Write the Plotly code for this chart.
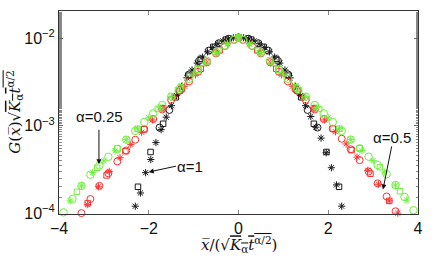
import plotly.graph_objects as go

# ---- data ----
# alpha = 0.25 (green)
g_circ_x = [-3.9,-3.7,-3.5,-3.3,-3.1,-2.9,-2.7,-2.5,-2.3,-2.1,-1.9,-1.7,-1.5,-1.3,-1.1,-0.9,-0.7,-0.5,-0.3,-0.1,
            0.1,0.3,0.5,0.7,0.9,1.1,1.3,1.5,1.7,1.9,2.1,2.3,2.5,2.7,2.9,3.1,3.3,3.5,3.7,3.9]
g_circ_y = [1.02e-4,1.45e-4,2.05e-4,2.75e-4,3.5e-4,4.4e-4,5.4e-4,6.9e-4,8.7e-4,1.10e-3,1.38e-3,1.72e-3,2.14e-3,2.69e-3,3.43e-3,4.37e-3,5.50e-3,6.84e-3,8.22e-3,9.55e-3,
            9.55e-3,8.22e-3,6.84e-3,5.50e-3,4.37e-3,3.43e-3,2.69e-3,2.14e-3,1.72e-3,1.38e-3,1.10e-3,8.71e-4,6.92e-4,5.50e-4,4.42e-4,3.55e-4,2.79e-4,2.09e-4,1.53e-4,1.08e-4]
g_sq_x = [-3.6,-3.15,-2.7,-2.25,-1.8,-1.35,-0.9,-0.45,0.0,0.45,0.9,1.35,1.8,2.25,2.7,3.15,3.6]
g_sq_y = [1.75e-4,3.3e-4,5.5e-4,9.2e-4,1.55e-3,2.54e-3,4.37e-3,7.24e-3,1.02e-2,7.24e-3,4.37e-3,2.54e-3,1.55e-3,9.23e-4,5.5e-4,3.35e-4,1.78e-4]
g_st_x = [-3.75,-3.5,-3.25,-3.0,-2.75,-2.5,-2.25,-2.0,-1.75,-1.5,-1.25,-1.0,-0.75,-0.5,-0.25,0.0,0.25,0.5,0.75,1.0,1.25,1.5,1.75,2.0,2.25,2.5,2.75,3.0,3.25,3.5,3.75]
g_st_y = [1.38e-4,2.05e-4,2.92e-4,3.95e-4,5.15e-4,6.9e-4,9.2e-4,1.23e-3,1.62e-3,2.14e-3,2.85e-3,3.89e-3,5.19e-3,6.84e-3,8.57e-3,1.02e-2,8.57e-3,6.84e-3,5.19e-3,3.89e-3,2.85e-3,2.14e-3,1.62e-3,1.23e-3,9.23e-4,6.92e-4,5.19e-4,3.98e-4,2.95e-4,2.09e-4,1.41e-4]

# alpha = 0.5 (red)
r_circ_x = [-3.5,-3.3,-3.1,-2.9,-2.7,-2.5,-2.3,-2.1,-1.9,-1.7,-1.5,-1.3,-1.1,-0.9,-0.7,-0.5,-0.3,-0.1,
            0.1,0.3,0.5,0.7,0.9,1.1,1.3,1.5,1.7,1.9,2.1,2.3,2.5,2.7,2.9,3.1,3.3,3.5]
r_circ_y = [1.0e-4,1.45e-4,2.05e-4,2.85e-4,3.9e-4,5.2e-4,6.9e-4,9.1e-4,1.19e-3,1.53e-3,1.97e-3,2.51e-3,3.20e-3,4.12e-3,5.31e-3,6.68e-3,8.13e-3,9.55e-3,
            9.55e-3,8.13e-3,6.68e-3,5.31e-3,4.12e-3,3.20e-3,2.51e-3,1.97e-3,1.53e-3,1.19e-3,9.23e-4,7.08e-4,5.37e-4,4.03e-4,2.99e-4,2.19e-4,1.55e-4,1.05e-4]
r_sq_x = [-3.36,-2.94,-2.52,-2.1,-1.68,-1.26,-0.84,-0.42,0.0,0.42,0.84,1.26,1.68,2.1,2.52,2.94,3.36]
r_sq_y = [1.3e-4,2.7e-4,5.1e-4,9.1e-4,1.58e-3,2.63e-3,4.47e-3,7.24e-3,1.02e-2,7.24e-3,4.47e-3,2.63e-3,1.58e-3,9.23e-4,5.25e-4,2.82e-4,1.38e-4]
r_st_x = [-3.36,-3.12,-2.88,-2.64,-2.4,-2.16,-1.92,-1.68,-1.44,-1.2,-0.96,-0.72,-0.48,-0.24,0.0,0.24,0.48,0.72,0.96,1.2,1.44,1.68,1.92,2.16,2.4,2.64,2.88,3.12,3.36,3.55]
r_st_y = [1.25e-4,2.0e-4,3.0e-4,4.3e-4,6.1e-4,8.4e-4,1.16e-3,1.58e-3,2.14e-3,2.82e-3,3.80e-3,5.19e-3,6.84e-3,8.61e-3,1.02e-2,8.61e-3,6.84e-3,5.19e-3,3.80e-3,2.82e-3,2.14e-3,1.58e-3,1.16e-3,8.51e-4,6.17e-4,4.37e-4,3.09e-4,2.14e-4,1.38e-4,1.0e-4]

# alpha = 1 (black)
k_st_x = [-2.3,-2.185,-2.07,-1.955,-1.84,-1.725,-1.61,-1.495,-1.38,-1.265,-1.15,-1.035,-0.92,-0.805,-0.69,-0.575,-0.46,-0.345,-0.23,-0.115,0.0,0.115,0.23,0.345,0.46,0.575,0.69,0.805,0.92,1.035,1.15,1.265,1.38,1.495,1.61,1.725,1.84,1.955,2.07,2.185,2.3]
k_st_y = [1.2e-4,1.7e-4,2.9e-4,4.1e-4,6.4e-4,9.0e-4,1.25e-3,1.69e-3,2.20e-3,2.82e-3,3.52e-3,4.32e-3,5.18e-3,6.07e-3,6.97e-3,7.83e-3,8.63e-3,9.29e-3,9.8e-3,1.01e-2,1.02e-2,1.01e-2,9.8e-3,9.29e-3,8.63e-3,7.83e-3,6.97e-3,6.07e-3,5.18e-3,4.32e-3,3.52e-3,2.82e-3,2.20e-3,1.69e-3,1.27e-3,9.6e-4,7.2e-4,4.9e-4,3.3e-4,2.1e-4,1.2e-4]
k_sq_x = [-2.24,-1.96,-1.68,-1.4,-1.12,-0.84,-0.56,-0.28,0.0,0.28,0.56,0.84,1.12,1.4,1.68,1.96,2.24]
k_sq_y = [2.0e-4,5.0e-4,1.05e-3,2.11e-3,3.72e-3,5.79e-3,7.94e-3,9.62e-3,1.02e-2,9.62e-3,7.94e-3,5.79e-3,3.72e-3,2.11e-3,1.05e-3,5.0e-4,2.0e-4]
k_circ_x = [-1.76,-1.54,-1.32,-1.1,-0.88,-0.66,-0.44,-0.22,0.0,0.22,0.44,0.66,0.88,1.1,1.32,1.54,1.76]
k_circ_y = [9.5e-4,1.51e-3,2.51e-3,3.85e-3,5.48e-3,7.21e-3,8.75e-3,9.84e-3,1.02e-2,9.84e-3,8.75e-3,7.21e-3,5.48e-3,3.85e-3,2.51e-3,1.51e-3,9.5e-4]

BLACK = "#1a1a1a"
RED = "#ff3030"
GREEN = "#6cf03c"

series = [
    (k_circ_x, k_circ_y, BLACK, "circle-open", 7),
    (k_sq_x, k_sq_y, BLACK, "square-open", 5.5),
    (k_st_x, k_st_y, BLACK, "asterisk-open", 6),
    (r_circ_x, r_circ_y, RED, "circle-open", 7),
    (r_sq_x, r_sq_y, RED, "square-open", 5.5),
    (r_st_x, r_st_y, RED, "asterisk-open", 6),
    (g_circ_x, g_circ_y, GREEN, "circle-open", 7.5),
    (g_sq_x, g_sq_y, GREEN, "square-open", 5.5),
    (g_st_x, g_st_y, GREEN, "asterisk-open", 6),
]

fig = go.Figure()
for xs, ys, col, sym, sz in series:
    fig.add_trace(go.Scatter(
        x=xs, y=ys, mode="markers", cliponaxis=False, showlegend=False,
        marker=dict(symbol=sym, size=sz, color=col, line=dict(color=col, width=1)),
    ))

axis_col = "#333333"
tickfont = dict(family="Liberation Sans, Arial, sans-serif", size=16, color="#111")

fig.update_xaxes(
    range=[-4, 4], tickvals=[-4, -2, 0, 2, 4], ticktext=["\u22124", "\u22122", "0", "2", "4"],
    showline=True, mirror="ticks", linecolor=axis_col, linewidth=1,
    ticks="inside", ticklen=4, tickcolor="#888", showgrid=False, zeroline=False,
    tickfont=tickfont,
)
fig.update_yaxes(
    type="log", range=[-4.01, -1.69],
    tickvals=[1e-4, 1e-3, 1e-2],
    ticktext=["10<sup>\u22124</sup>", "10<sup>\u22123</sup>", "10<sup>\u22122</sup>"],
    showline=True, mirror="ticks", linecolor=axis_col, linewidth=1,
    ticks="inside", ticklen=4, tickcolor="#666", showgrid=False, zeroline=False,
    minor=dict(ticks="inside", ticklen=2.5, tickcolor="#888", showgrid=False),
    tickfont=tickfont,
)

ann_font = dict(family="Liberation Sans, Arial, sans-serif", size=15, color="#111")
label_font = dict(family="DejaVu Serif, Liberation Serif, serif", size=15, color="#111")

annotations = [
    dict(x=-3.09, y=-2.90, text="\u03b1=0.25", showarrow=False, font=ann_font),
    dict(x=-1.07, y=-3.47, text="\u03b1=1", showarrow=False, font=ann_font),
    dict(x=3.42, y=-3.13, text="\u03b1=0.5", showarrow=False, font=ann_font),
    dict(x=-3.11, y=-3.44, ax=-3.11, ay=-3.03, axref="x", ayref="y", text="",
         showarrow=True, arrowhead=2, arrowsize=1, arrowwidth=1, arrowcolor="#111"),
    dict(x=-2.0, y=-3.53, ax=-1.36, ay=-3.46, axref="x", ayref="y", text="",
         showarrow=True, arrowhead=2, arrowsize=1, arrowwidth=1, arrowcolor="#111"),
    dict(x=3.22, y=-3.73, ax=3.42, ay=-3.22, axref="x", ayref="y", text="",
         showarrow=True, arrowhead=2, arrowsize=1, arrowwidth=1, arrowcolor="#111"),
    dict(xref="paper", yref="paper", x=0.5, y=-0.15, xanchor="center", yanchor="middle",
         text="<i>x\u0305</i>/(\u221a<span style='text-decoration:overline'><i>K</i><sub>\u03b1</sub><i>t</i><sup>\u03b1/2</sup></span>)",
         showarrow=False, font=label_font),
    dict(xref="paper", yref="paper", x=-0.125, y=0.5, xanchor="center", yanchor="middle", textangle=-90,
         text="<i>G</i>(<i>x\u0305</i>)\u221a<span style='text-decoration:overline'><i>K</i><sub>\u03b1</sub><i>t</i><sup>\u03b1/2</sup></span>",
         showarrow=False, font=label_font),
]

fig.update_layout(
    width=436, height=259,
    margin=dict(l=59, r=18, t=11, b=45),
    paper_bgcolor="white", plot_bgcolor="white",
    annotations=annotations,
)

fig.write_html("out.html", config={"displayModeBar": False},
               post_script="document.body.style.margin='0';document.body.style.padding='0';")
